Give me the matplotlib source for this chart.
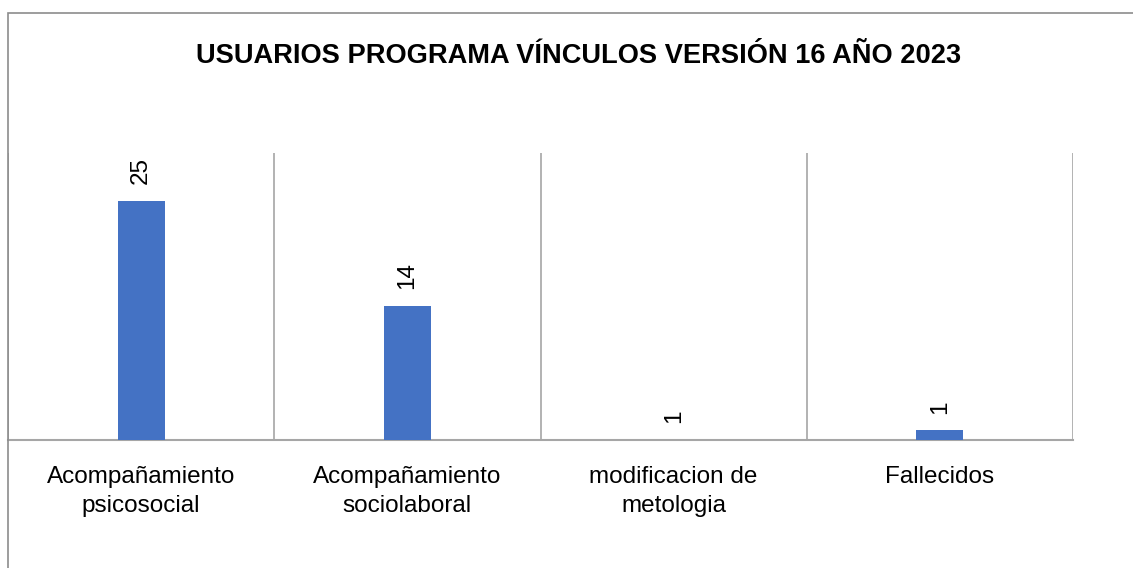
import matplotlib.pyplot as plt
from matplotlib.patches import Rectangle

# ==================== 配置 ====================
plt.rcParams['font.family'] = ['Liberation Sans', 'DejaVu Sans']

# ==================== 数据 ====================
categorias = ['Acompañamiento\npsicosocial', 'Acompañamiento\nsociolaboral',
              'modificacion de\nmetologia', 'Fallecidos']
usuarios = [25, 14, 0, 1]
etiquetas = ['25', '14', '1', '1']

TITULO = 'USUARIOS PROGRAMA VÍNCULOS VERSIÓN 16 AÑO 2023'
AZUL = '#4472C4'
GRIS = '#A6A6A6'


def plot_usuarios(ax):
    x = list(range(len(categorias)))
    ax.bar(x, usuarios, width=0.177, color=AZUL, zorder=3)

    # etiquetas de datos verticales
    for xi, yi, txt in zip(x, usuarios, etiquetas):
        ax.annotate(txt, (xi, yi), xytext=(0, 12), textcoords='offset points',
                    rotation=90, ha='center', va='bottom', fontsize=17.5)

    ax.set_xlim(-0.5, len(categorias) - 0.5)
    ax.set_ylim(0, 30)
    ax.set_xticks(x)
    ax.set_xticklabels(categorias, fontsize=17.5, linespacing=1.4)
    ax.set_xticks([i - 0.5 for i in range(len(categorias) + 1)], minor=True)
    ax.tick_params(axis='x', which='both', length=0, pad=19)
    ax.set_yticks([])
    ax.grid(which='minor', axis='x', color=GRIS, linewidth=1.2)

    for s in ['top', 'right', 'left']:
        ax.spines[s].set_visible(False)
    ax.spines['bottom'].set_color(GRIS)
    ax.spines['bottom'].set_linewidth(1.5)


def main():
    fig = plt.figure(figsize=(11.33, 5.68), dpi=100)
    ax = fig.add_axes([8 / 1133, 1 - 440 / 568, (1073 - 8) / 1133, (440 - 153) / 568])
    plot_usuarios(ax)

    fig.text(579 / 1133, 1 - 63 / 568, TITULO, ha='center', va='baseline',
             fontsize=19.6, fontweight='bold')

    # borde del gráfico
    fig.patches.append(Rectangle((8 / 1133, -0.1), 1.2, 1 - 13 / 568 + 0.1,
                                 transform=fig.transFigure, fill=False,
                                 edgecolor='#8C8C8C', linewidth=1.2))

    fig.savefig('out.png', dpi=100)


if __name__ == '__main__':
    main()
